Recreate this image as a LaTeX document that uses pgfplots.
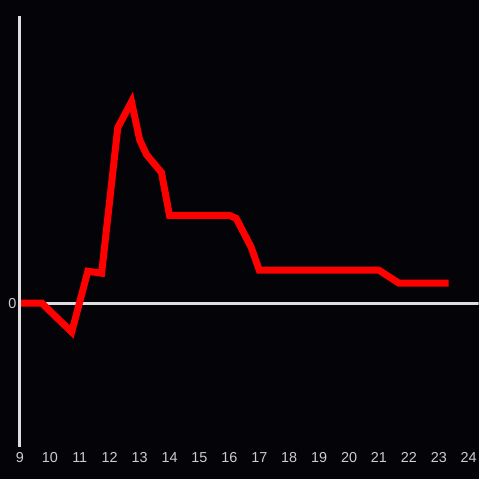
\documentclass[border=0pt]{standalone}
\usepackage{fontspec}
\setmainfont{Liberation Sans}
\usepackage{pgfplots}
\pgfplotsset{compat=1.18}
\usetikzlibrary{backgrounds}
\definecolor{bg}{RGB}{4,3,7}
\definecolor{ax}{RGB}{222,222,222}
\definecolor{lbl}{RGB}{205,205,205}
\begin{document}
\begin{tikzpicture}
\begin{axis}[
  scale only axis, width=460bp, height=432bp,
  xmin=9, xmax=24.3333, ymin=-144, ymax=288,
  axis x line*=bottom, axis y line*=left,
  x axis line style={draw=none},
  y axis line style={draw=ax, line width=3bp, -},
  xtick={9,...,24}, ytick={0},
  major tick length=0pt,
  tick style={draw=none},
  ticklabel style={font=\fontsize{14.5}{16}\selectfont, text=lbl},
  xticklabel style={yshift=-2bp},
  /pgf/number format/assume math mode=true,
  axis on top,
]
\draw[ax, line width=3bp] (axis cs:9,0) -- (axis cs:24.3333,0);
\addplot[color=red, line width=7bp, no markers] coordinates {
(9,0) (9.73,0) (10.73,-29) (11.27,32) (11.73,30) (12.27,176) (12.73,202)
(13.0,164) (13.23,149) (13.73,131) (14.0,88) (16.0,88) (16.23,85)
(16.73,56) (17.0,33) (21.0,33) (21.67,20) (23.33,20)
};
\end{axis}
\begin{scope}[on background layer]
\fill[bg] ([xshift=-20bp,yshift=-32bp]current axis.south west) rectangle ([yshift=16bp]current axis.north east);
\end{scope}
\end{tikzpicture}
\end{document}
